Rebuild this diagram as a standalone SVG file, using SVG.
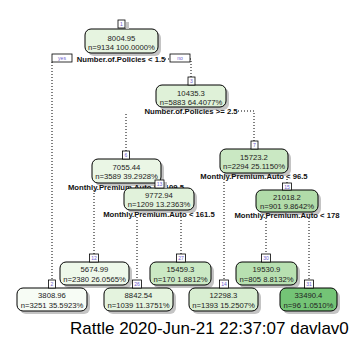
<svg xmlns="http://www.w3.org/2000/svg" width="357" height="338" viewBox="0 0 357 338">
  <style>
    .box { stroke: #000; stroke-width: 1; }
    .shadow { fill: #c4c4c4; }
    .num { fill: #fff; stroke: #000; stroke-width: 0.8; }
    .numtxt { font-family: "Liberation Sans", Arial, sans-serif; font-size: 5px; fill: #6a5acd; text-anchor: middle; }
    .val { font-family: "Liberation Sans", Arial, sans-serif; font-size: 7.7px; fill: #222; text-anchor: middle; }
    .split { font-family: "Liberation Sans", Arial, sans-serif; font-size: 7.7px; font-weight: bold; fill: #111; text-anchor: middle; }
    .edge { fill: none; stroke: #000; stroke-width: 1; stroke-dasharray: 1 2; }
    .footer { font-family: "Liberation Sans", Arial, sans-serif; font-size: 17px; fill: #000; }
  </style>

  <rect width="357" height="338" fill="#fff"/>

  <!-- branches -->
  <g id="connectors">
    <path class="edge" d="M52,62 V282"/>
    <path class="edge" d="M165,59 H170 M190,59 H191 V77"/>
    <path class="edge" d="M126,114 V151"/>
    <path class="edge" d="M238,111 H254 V141"/>
    <path class="edge" d="M224,179 V280"/>
    <path class="edge" d="M287,179 V183"/>
    <path class="edge" d="M94,190 V254"/>
    <path class="edge" d="M137,217 V280"/>
    <path class="edge" d="M181,217 V254"/>
    <path class="edge" d="M266,218 V254"/>
    <path class="edge" d="M309,218 V280"/>
  </g>

  <!-- node 1 -->
  <g id="node1">
    <rect class="shadow" x="88" y="32" width="73" height="24" rx="6"/>
    <rect class="box" x="85" y="29" width="73" height="24" rx="6" fill="#e6f4e0"/>
    <rect class="shadow" x="126" y="22" width="3" height="7"/>
    <rect class="num" x="118" y="20" width="7" height="8"/>
    <text class="numtxt" x="121.5" y="26">1</text>
    <text class="val" x="121.5" y="40.5">8004.95</text>
    <text class="val" x="121.5" y="50">n=9134  100.0000%</text>
    <text class="split" x="121" y="62">Number.of.Policies &lt; 1.5</text>
    <rect class="num" x="52" y="54" width="20" height="8"/>
    <text class="numtxt" x="62" y="60">yes</text>
    <rect class="num" x="170" y="54" width="20" height="8"/>
    <text class="numtxt" x="180" y="60">no</text>
  </g>

  <!-- node 3 -->
  <g id="node3">
    <rect class="shadow" x="159" y="88" width="70" height="22" rx="6"/>
    <rect class="box" x="156" y="85" width="70" height="22" rx="6" fill="#dff1d8"/>
    <rect class="num" x="188" y="77" width="7" height="8"/>
    <text class="numtxt" x="191.5" y="83">3</text>
    <text class="val" x="191" y="95.5">10435.3</text>
    <text class="val" x="191" y="104.5">n=5883  64.4077%</text>
    <text class="split" x="191" y="113.5">Number.of.Policies &gt;= 2.5</text>
  </g>

  <!-- node 7 -->
  <g id="node7">
    <rect class="shadow" x="223" y="152" width="68" height="24" rx="6"/>
    <rect class="box" x="220" y="149" width="68" height="24" rx="6" fill="#cae8c3"/>
    <rect class="num" x="251" y="141" width="7" height="8"/>
    <text class="numtxt" x="254.5" y="147">7</text>
    <text class="val" x="254" y="159.5">15723.2</text>
    <text class="val" x="254" y="169">n=2294  25.1150%</text>
    <text class="split" x="254" y="178.5">Monthly.Premium.Auto &lt; 96.5</text>
  </g>

  <!-- node 6 -->
  <g id="node6">
    <rect class="shadow" x="95" y="162" width="69" height="24" rx="6"/>
    <rect class="box" x="92" y="159" width="69" height="24" rx="6" fill="#eaf6e5"/>
    <rect class="num" x="122.5" y="151" width="7" height="8"/>
    <text class="numtxt" x="126" y="157">6</text>
    <text class="val" x="126.5" y="169.5">7055.44</text>
    <text class="val" x="126.5" y="179">n=3589  39.2928%</text>
    <text class="split" x="126" y="189.5">Monthly.Premium.Auto &gt;= 109.5</text>
  </g>

  <!-- node 13 -->
  <g id="node13">
    <rect class="shadow" x="127" y="191" width="70" height="22" rx="6"/>
    <rect class="box" x="124" y="188" width="70" height="22" rx="6" fill="#e1f2db"/>
    <rect class="shadow" x="164" y="182" width="3" height="6"/>
    <rect class="num" x="155" y="180" width="9" height="8"/>
    <text class="numtxt" x="159.5" y="186">13</text>
    <text class="val" x="159" y="197.5">9772.94</text>
    <text class="val" x="159" y="206.5">n=1209  13.2363%</text>
    <text class="split" x="159" y="216.5">Monthly.Premium.Auto &lt; 161.5</text>
  </g>

  <!-- node 15 -->
  <g id="node15">
    <rect class="shadow" x="259" y="193" width="62" height="22" rx="6"/>
    <rect class="box" x="256" y="190" width="62" height="22" rx="6" fill="#b1dca9"/>
    <rect class="num" x="282.5" y="183" width="9" height="7"/>
    <text class="numtxt" x="287" y="188.5">15</text>
    <text class="val" x="287" y="199.5">21018.2</text>
    <text class="val" x="287" y="208.5">n=901  9.8642%</text>
    <text class="split" x="287" y="217.5">Monthly.Premium.Auto &lt; 178</text>
  </g>

  <!-- node 12 (leaf) -->
  <g id="node12">
    <rect class="shadow" x="63" y="265" width="69" height="23" rx="6"/>
    <rect class="box" x="60" y="262" width="69" height="23" rx="6" fill="#eef8ea"/>
    <rect class="num" x="89.5" y="254" width="9" height="8"/>
    <text class="numtxt" x="94" y="260">12</text>
    <text class="val" x="94.5" y="272">5674.99</text>
    <text class="val" x="94.5" y="281.5">n=2380  26.0565%</text>
  </g>

  <!-- node 27 (leaf) -->
  <g id="node27">
    <rect class="shadow" x="153" y="265" width="61" height="23" rx="6"/>
    <rect class="box" x="150" y="262" width="61" height="23" rx="6" fill="#cbe9c4"/>
    <rect class="num" x="176.5" y="254" width="9" height="8"/>
    <text class="numtxt" x="181" y="260">27</text>
    <text class="val" x="180.5" y="272">15459.3</text>
    <text class="val" x="180.5" y="281.5">n=170  1.8812%</text>
  </g>

  <!-- node 30 (leaf) -->
  <g id="node30">
    <rect class="shadow" x="239" y="265" width="61" height="23" rx="6"/>
    <rect class="box" x="236" y="262" width="61" height="23" rx="6" fill="#b8e0b1"/>
    <rect class="num" x="261.5" y="254" width="9" height="8"/>
    <text class="numtxt" x="266" y="260">30</text>
    <text class="val" x="266.5" y="272">19530.9</text>
    <text class="val" x="266.5" y="281.5">n=805  8.8132%</text>
  </g>

  <!-- node 2 (leaf) -->
  <g id="node2">
    <rect class="shadow" x="20" y="291" width="70" height="23" rx="6"/>
    <rect class="box" x="17" y="288" width="70" height="23" rx="6" fill="#f7fcf5"/>
    <rect class="num" x="48.5" y="280" width="7" height="8"/>
    <text class="numtxt" x="52" y="286">2</text>
    <text class="val" x="52" y="298">3808.96</text>
    <text class="val" x="52" y="307.5">n=3251  35.5923%</text>
  </g>

  <!-- node 26 (leaf) -->
  <g id="node26">
    <rect class="shadow" x="107" y="291" width="69" height="23" rx="6"/>
    <rect class="box" x="104" y="288" width="69" height="23" rx="6" fill="#e4f3de"/>
    <rect class="num" x="132.5" y="280" width="9" height="8"/>
    <text class="numtxt" x="137" y="286">26</text>
    <text class="val" x="138.5" y="298">8842.54</text>
    <text class="val" x="138.5" y="307.5">n=1039  11.3751%</text>
  </g>

  <!-- node 14 (leaf) -->
  <g id="node14">
    <rect class="shadow" x="192" y="291" width="69" height="23" rx="6"/>
    <rect class="box" x="189" y="288" width="69" height="23" rx="6" fill="#d8eed1"/>
    <rect class="num" x="219.5" y="280" width="9" height="8"/>
    <text class="numtxt" x="224" y="286">14</text>
    <text class="val" x="223.5" y="298">12298.3</text>
    <text class="val" x="223.5" y="307.5">n=1393  15.2507%</text>
  </g>

  <!-- node 31 (leaf) -->
  <g id="node31">
    <rect class="shadow" x="283" y="291" width="57" height="23" rx="6"/>
    <rect class="box" x="280" y="288" width="57" height="23" rx="6" fill="#74c476"/>
    <rect class="num" x="304.5" y="280" width="9" height="8"/>
    <text class="numtxt" x="309" y="286">31</text>
    <text class="val" x="308.5" y="298">33490.4</text>
    <text class="val" x="308.5" y="307.5">n=96  1.0510%</text>
  </g>

  <text class="footer" x="70" y="334">Rattle 2020-Jun-21 22:37:07 davlav0</text>
</svg>
